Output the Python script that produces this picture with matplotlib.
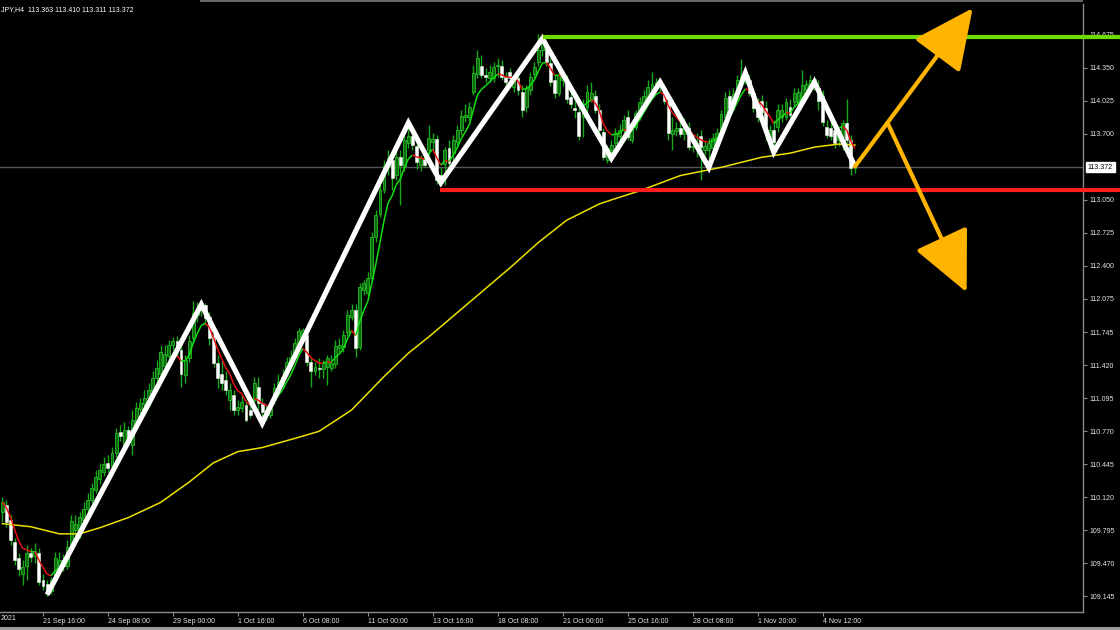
import matplotlib
matplotlib.use("Agg")
import matplotlib.pyplot as plt
import numpy as np
import pandas as pd
from matplotlib.collections import LineCollection
from matplotlib.patches import Rectangle
from matplotlib.transforms import blended_transform_factory

plt.rcParams["font.family"] = ["Liberation Sans", "DejaVu Sans"]

# USDJPY H4 candles (bar 0 = first visible bar)
opens = [
    109.98, 110.04, 109.90, 109.68, 109.52, 109.36, 109.44, 109.57, 109.54, 109.57,
    109.31, 109.27, 109.20, 109.31, 109.44, 109.50, 109.44, 109.65, 109.80, 109.80,
    109.90, 110.00, 110.09, 110.19, 110.30, 110.37, 110.46, 110.43, 110.56, 110.76,
    110.64, 110.78, 110.64, 110.86, 110.99, 111.04, 111.10, 111.17, 111.30, 111.33,
    111.41, 111.51, 111.62, 111.66, 111.57, 111.32, 111.49, 111.69, 111.92, 111.97,
    112.01, 111.90, 111.72, 111.44, 111.33, 111.28, 111.08, 111.13, 110.98, 111.00,
    111.03, 110.98, 111.08, 111.21, 111.05, 110.96, 110.93, 111.08, 111.19, 111.25,
    111.35, 111.41, 111.53, 111.63, 111.70, 111.72, 111.45, 111.36, 111.39, 111.38,
    111.40, 111.39, 111.43, 111.59, 111.60, 111.75, 111.90, 111.97, 111.60, 112.16,
    112.13, 112.28, 112.68, 112.91, 113.15, 113.38, 113.44, 113.30, 113.47, 113.38,
    113.61, 113.68, 113.58, 113.39, 113.46, 113.54, 113.62, 113.65, 113.30, 113.40,
    113.56, 113.51, 113.62, 113.74, 113.87, 113.87, 114.11, 114.29, 114.37, 114.28,
    114.25, 114.25, 114.37, 114.37, 114.26, 114.31, 114.16, 114.25, 114.11, 113.97,
    114.13, 114.29, 114.41, 114.53, 114.58, 114.40, 114.23, 114.10, 114.23, 114.23,
    114.06, 113.96, 113.92, 113.87, 113.97, 114.04, 114.07, 113.94, 113.72, 113.44,
    113.54, 113.61, 113.68, 113.74, 113.87, 113.64, 113.77, 113.87, 114.00, 114.05,
    114.10, 114.16, 114.20, 114.15, 114.01, 113.70, 113.73, 113.76, 113.70, 113.76,
    113.57, 113.59, 113.68, 113.54, 113.54, 113.56, 113.62, 113.74, 113.87, 114.07,
    113.99, 114.10, 114.20, 114.25, 114.23, 114.10, 114.01, 114.02, 113.96, 113.66,
    113.74, 113.77, 113.87, 113.87, 113.97, 114.01, 114.01, 114.05, 114.13, 114.16,
    114.19, 114.15, 114.07, 113.77, 113.76, 113.74, 113.64, 113.67, 113.81, 113.64,
    113.363,
]
highs = [
    110.12, 110.09, 109.95, 109.72, 109.57, 109.50, 109.65, 109.62, 109.67, 109.62,
    109.36, 109.31, 109.33, 109.58, 109.58, 109.56, 109.70, 109.95, 109.95, 109.98,
    110.07, 110.16, 110.26, 110.39, 110.46, 110.52, 110.54, 110.62, 110.80, 110.83,
    110.86, 110.82, 110.98, 111.06, 111.10, 111.18, 111.25, 111.36, 111.47, 111.62,
    111.62, 111.67, 111.70, 111.71, 111.62, 111.52, 111.72, 112.05, 112.04, 112.05,
    112.03, 111.95, 111.79, 111.52, 111.47, 111.36, 111.25, 111.18, 111.08, 111.13,
    111.08, 111.03, 111.31, 111.31, 111.10, 111.03, 111.06, 111.25, 111.33, 111.38,
    111.50, 111.57, 111.69, 111.79, 111.79, 111.77, 111.49, 111.45, 111.49, 111.47,
    111.52, 111.52, 111.67, 111.69, 111.77, 111.97, 112.02, 112.02, 112.23, 112.26,
    112.34, 112.73, 112.95, 113.20, 113.44, 113.54, 113.49, 113.54, 113.54, 113.69,
    113.80, 113.74, 113.64, 113.49, 113.54, 113.79, 113.71, 113.69, 113.37, 113.57,
    113.64, 113.69, 113.79, 113.94, 113.99, 114.01, 114.38, 114.53, 114.48, 114.35,
    114.38, 114.41, 114.45, 114.43, 114.31, 114.35, 114.28, 114.33, 114.18, 114.18,
    114.31, 114.41, 114.68, 114.66, 114.63, 114.45, 114.28, 114.35, 114.33, 114.28,
    114.13, 114.04, 113.99, 114.04, 114.18, 114.21, 114.13, 113.99, 113.76, 113.59,
    113.64, 113.76, 113.80, 113.89, 113.94, 113.79, 113.94, 114.06, 114.13, 114.23,
    114.31, 114.25, 114.23, 114.18, 114.05, 113.87, 113.82, 113.84, 113.86, 113.82,
    113.64, 113.71, 113.74, 113.64, 113.66, 113.71, 113.76, 113.94, 114.11, 114.13,
    114.15, 114.28, 114.44, 114.33, 114.28, 114.15, 114.05, 114.08, 114.02, 113.79,
    113.84, 113.99, 113.99, 114.05, 114.04, 114.15, 114.15, 114.33, 114.23, 114.28,
    114.27, 114.23, 114.13, 113.84, 113.82, 113.79, 113.72, 113.84, 114.04, 113.69,
    113.410,
]
lows = [
    109.88, 109.83, 109.65, 109.45, 109.34, 109.26, 109.31, 109.48, 109.47, 109.26,
    109.21, 109.15, 109.17, 109.27, 109.37, 109.39, 109.41, 109.62, 109.74, 109.72,
    109.84, 109.96, 110.06, 110.16, 110.25, 110.33, 110.37, 110.41, 110.52, 110.67,
    110.59, 110.63, 110.54, 110.80, 110.94, 111.00, 111.06, 111.13, 111.26, 111.28,
    111.36, 111.47, 111.57, 111.51, 111.21, 111.25, 111.45, 111.64, 111.85, 111.91,
    111.82, 111.62, 111.40, 111.20, 111.18, 111.13, 110.98, 110.93, 110.93, 110.96,
    110.86, 110.90, 111.01, 110.98, 110.85, 110.88, 110.90, 111.04, 111.16, 111.20,
    111.32, 111.38, 111.50, 111.60, 111.65, 111.41, 111.21, 111.32, 111.30, 111.30,
    111.23, 111.36, 111.39, 111.55, 111.55, 111.71, 111.87, 111.50, 111.57, 112.11,
    112.10, 112.24, 112.64, 112.88, 113.12, 113.30, 113.15, 113.25, 113.00, 113.33,
    113.56, 113.54, 113.35, 113.33, 113.37, 113.49, 113.54, 113.21, 113.19, 113.20,
    113.38, 113.39, 113.57, 113.69, 113.82, 113.84, 114.08, 114.25, 114.25, 114.21,
    114.21, 114.21, 114.26, 114.23, 114.17, 114.23, 114.11, 114.08, 113.87, 113.92,
    114.08, 114.25, 114.37, 114.47, 114.37, 114.17, 114.05, 114.07, 114.17, 114.00,
    113.96, 113.86, 113.64, 113.67, 113.92, 114.01, 113.91, 113.69, 113.44, 113.41,
    113.46, 113.57, 113.64, 113.70, 113.64, 113.61, 113.74, 113.84, 113.96, 114.03,
    114.07, 114.13, 114.11, 113.99, 113.64, 113.54, 113.68, 113.67, 113.64, 113.54,
    113.52, 113.47, 113.25, 113.49, 113.37, 113.52, 113.58, 113.70, 113.84, 113.92,
    113.94, 114.06, 114.15, 114.19, 114.07, 113.92, 113.82, 113.89, 113.64, 113.54,
    113.52, 113.72, 113.82, 113.84, 113.86, 113.97, 113.98, 114.02, 114.08, 114.12,
    114.13, 113.94, 113.78, 113.66, 113.64, 113.56, 113.58, 113.54, 113.61, 113.30,
    113.311,
]
closes = [
    110.07, 109.88, 109.70, 109.50, 109.41, 109.43, 109.57, 109.53, 109.59, 109.29,
    109.25, 109.20, 109.31, 109.52, 109.50, 109.44, 109.63, 109.89, 109.86, 109.93,
    110.00, 110.09, 110.21, 110.32, 110.39, 110.45, 110.41, 110.56, 110.75, 110.72,
    110.78, 110.69, 110.88, 111.00, 111.05, 111.10, 111.18, 111.30, 111.39, 111.55,
    111.53, 111.62, 111.66, 111.57, 111.33, 111.47, 111.66, 111.94, 111.97, 112.01,
    111.89, 111.69, 111.44, 111.30, 111.25, 111.18, 111.18, 110.98, 111.01, 111.06,
    110.88, 110.93, 111.25, 111.05, 110.96, 110.98, 111.00, 111.20, 111.26, 111.31,
    111.45, 111.50, 111.64, 111.76, 111.77, 111.45, 111.36, 111.40, 111.38, 111.44,
    111.49, 111.44, 111.61, 111.62, 111.72, 111.92, 111.97, 111.59, 112.19, 112.23,
    112.28, 112.68, 112.90, 113.15, 113.38, 113.46, 113.27, 113.47, 113.39, 113.64,
    113.68, 113.59, 113.42, 113.46, 113.39, 113.66, 113.65, 113.25, 113.22, 113.54,
    113.41, 113.64, 113.74, 113.88, 113.89, 113.97, 114.30, 114.45, 114.28, 114.26,
    114.31, 114.36, 114.38, 114.26, 114.21, 114.25, 114.25, 114.13, 113.94, 114.15,
    114.26, 114.36, 114.53, 114.61, 114.41, 114.21, 114.10, 114.28, 114.26, 114.04,
    113.99, 113.94, 113.68, 113.96, 114.11, 114.10, 113.94, 113.74, 113.47, 113.56,
    113.59, 113.71, 113.74, 113.84, 113.67, 113.74, 113.91, 114.01, 114.07, 114.16,
    114.19, 114.21, 114.17, 114.02, 113.71, 113.74, 113.76, 113.70, 113.79, 113.57,
    113.58, 113.61, 113.57, 113.58, 113.61, 113.66, 113.71, 113.90, 114.05, 113.96,
    114.09, 114.23, 114.27, 114.29, 114.10, 113.96, 113.87, 113.92, 113.76, 113.74,
    113.62, 113.94, 113.94, 114.01, 113.89, 114.10, 114.11, 114.18, 114.19, 114.23,
    114.24, 114.02, 113.82, 113.69, 113.68, 113.61, 113.68, 113.81, 113.64, 113.36,
    113.372,
]

# slow moving average (yellow), sampled along the curve
slow_ma_bars = [0, 7, 14, 19, 24, 31, 39, 46, 52, 58, 64, 72, 78, 86, 94, 100,
                105, 115, 125, 132, 139, 147, 150, 157, 167, 177, 187, 194, 200, 206, 210]
slow_ma = [109.86, 109.83, 109.76, 109.76, 109.82, 109.92, 110.07, 110.27, 110.46,
           110.57, 110.61, 110.70, 110.77, 110.98, 111.31, 111.54, 111.70, 112.04,
           112.38, 112.63, 112.85, 113.01, 113.05, 113.14, 113.29, 113.37, 113.47,
           113.51, 113.57, 113.60, 113.59]

# hand-drawn zigzag swings
zigzag_bars = [11, 49, 64, 100, 108, 133, 150, 162, 174, 183, 190, 200, 210]
zigzag_prices = [109.16, 112.02, 110.85, 113.81, 113.22, 114.64, 113.46, 114.21,
                 113.37, 114.30, 113.52, 114.21, 113.38]

resistance, resistance_from = 114.652, 133.6
support, support_from = 113.15, 108.3
last_price = 113.372

# scenario arrows: (bar, price) start -> (bar, price) tip
arrow_up = [(210, 113.38), (239, 114.94)]
arrow_down = [(218, 113.81), (237.5, 112.14)]

time_ticks = [10, 26, 42, 58, 74, 90, 106, 122, 138, 154, 170, 186, 202]
time_labels = ["21 Sep 16:00", "24 Sep 08:00", "29 Sep 00:00", "1 Oct 16:00",
               "6 Oct 08:00", "11 Oct 00:00", "13 Oct 16:00", "18 Oct 08:00",
               "21 Oct 00:00", "25 Oct 16:00", "28 Oct 08:00", "1 Nov 20:00",
               "4 Nov 12:00"]
price_ticks = [114.675, 114.350, 114.025, 113.700, 113.050, 112.725, 112.400,
               112.075, 111.745, 111.420, 111.095, 110.770, 110.445, 110.120,
               109.795, 109.470, 109.145]

GOLD = "#ffb400"
AXIS_GRAY = "#8a8a8a"

fig = plt.figure(figsize=(11.2, 6.3), dpi=100, facecolor="black")
ax = fig.add_axes([0, 18 / 630, 1083 / 1120, 608 / 630], facecolor="black")
ax.set_xlim(-0.59, 266.16)
ax.set_ylim(108.990, 114.980)

idx = np.arange(len(closes))
o, h, l, c = (np.array(v) for v in (opens, highs, lows, closes))
up = c >= o

# last price line
ax.axhline(last_price, color="#55555e", lw=1, zorder=1)

# candles
ax.vlines(idx, l, h, color="#17a817", lw=1.0, zorder=2)
body_lo = np.minimum(o, c)
body_h = np.maximum(np.abs(c - o), 0.012)
ax.bar(idx[up], body_h[up], bottom=body_lo[up], width=0.72,
       color="#0e6a0e", edgecolor="#25bb25", lw=0.6, zorder=3)
ax.bar(idx[~up], body_h[~up], bottom=body_lo[~up], width=0.72,
       color="white", edgecolor="#e4f4e4", lw=0.4, zorder=3)

# moving averages
ax.plot(slow_ma_bars, slow_ma, color="#ece000", lw=1.1, zorder=4)
fast = pd.Series(closes).ewm(span=6, adjust=False).mean().to_numpy()
pts = np.column_stack([idx, fast])
segs = np.stack([pts[:-1], pts[1:]], axis=1)
seg_colors = np.where(np.diff(fast) < 0, "#e81010", "#12e012")
ax.add_collection(LineCollection(segs, colors=seg_colors, lw=1.1, zorder=4))

# zigzag
ax.plot(zigzag_bars, zigzag_prices, color="white", lw=3.7, zorder=6,
        solid_joinstyle="miter", solid_capstyle="butt")

# support / resistance, running through the price scale
xl = ax.get_xlim()
frac = lambda b: (b - xl[0]) / (xl[1] - xl[0])
ax.axhline(resistance, xmin=frac(resistance_from), xmax=1120 / 1083,
           color="#6edc00", lw=3, clip_on=False, zorder=7)
ax.axhline(support, xmin=frac(support_from), xmax=1120 / 1083,
           color="#ff1e1e", lw=3, clip_on=False, zorder=7)

# arrows
for (x0, y0), (x1, y1) in (arrow_up, arrow_down):
    ax.annotate("", xy=(x1, y1), xytext=(x0, y0),
                arrowprops=dict(arrowstyle="-|>,head_length=0.38,head_width=0.18",
                                mutation_scale=100, color=GOLD, lw=3,
                                shrinkA=0, shrinkB=0),
                zorder=8)

# axes styling
for side in ("left", "top"):
    ax.spines[side].set_visible(False)
for side in ("right", "bottom"):
    ax.spines[side].set_color(AXIS_GRAY)
    ax.spines[side].set_linewidth(1)
ax.yaxis.tick_right()
ax.set_yticks(price_ticks)
ax.set_yticklabels([f"{p:.3f}" for p in price_ticks])
ax.set_xticks(time_ticks)
ax.set_xticklabels(time_labels, ha="left")
ax.tick_params(axis="y", length=3, color=AXIS_GRAY, labelcolor="#e6e6e6",
               labelsize=5, pad=1.5)
ax.tick_params(axis="x", length=3, color=AXIS_GRAY, labelcolor="#e6e6e6",
               labelsize=5, pad=1.5)

# current price tag
tr = blended_transform_factory(ax.transAxes, ax.transData)
ax.text(1.0045, last_price, f"{last_price:.3f}", transform=tr, ha="left",
        va="center", fontsize=5, color="black", clip_on=False, zorder=9,
        bbox=dict(boxstyle="square,pad=0.25", fc="white", ec="white"))

# header and window chrome
fig.text(1 / 1120, 1 - 10 / 630, "JPY,H4  113.363 113.410 113.311 113.372",
         color="white", fontsize=5, va="center", ha="left")
fig.text(1 / 1120, 1 - 619 / 630, "2021", color="#e6e6e6",
         fontsize=5, va="center", ha="left")
fig.add_artist(Rectangle((0, 0), 1, 3 / 630, transform=fig.transFigure,
                         color="#9a9a9a", lw=0))
fig.add_artist(Rectangle((200 / 1120, 1 - 2 / 630), 883 / 1120, 2 / 630,
                         transform=fig.transFigure, color="#6a6a6a", lw=0))

fig.savefig("out.png", dpi=100, facecolor="black")
